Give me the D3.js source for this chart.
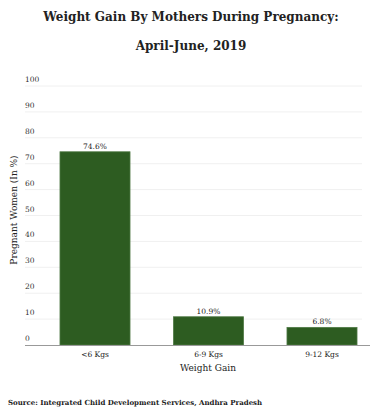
<!DOCTYPE html>
<html>
<head>
<meta charset="utf-8">
<script src="https://cdn.jsdelivr.net/npm/d3@7"></script>
<style>
  body { margin: 0; background: #fff; }
  text { font-family: "DejaVu Serif", "Liberation Serif", serif; fill: #222; }
</style>
</head>
<body>
<div id="chart"></div>
<script>
var categories = ["<6 Kgs", "6-9 Kgs", "9-12 Kgs"];
var values = [74.6, 10.9, 6.8];
var yTicks = [0, 10, 20, 30, 40, 50, 60, 70, 80, 90, 100];

var width = 371, height = 417;
var svg = d3.select("#chart").append("svg")
    .attr("width", width)
    .attr("height", height);

// title
svg.append("text")
    .attr("x", 191).attr("y", 21)
    .attr("text-anchor", "middle")
    .style("font-size", "12px").style("font-weight", "bold")
    .text("Weight Gain By Mothers During Pregnancy:");
svg.append("text")
    .attr("x", 191).attr("y", 50)
    .attr("text-anchor", "middle")
    .style("font-size", "12px").style("font-weight", "bold")
    .text("April-June, 2019");

var x = d3.scaleBand()
    .domain(categories)
    .range([38.25, 378.75])
    .paddingInner(0.383)
    .paddingOuter(0.1915);

var y = d3.scaleLinear()
    .domain([0, 100])
    .range([345, 86]);

// gridlines + tick labels
var grid = svg.append("g");
grid.selectAll("line")
    .data(yTicks.filter(function(d) { return d > 0; }))
    .enter().append("line")
    .attr("x1", 25).attr("x2", 362)
    .attr("y1", function(d) { return y(d); })
    .attr("y2", function(d) { return y(d); })
    .attr("stroke", "#f0f0f0").attr("stroke-width", 1);
grid.selectAll("text")
    .data(yTicks)
    .enter().append("text")
    .attr("x", 25)
    .attr("y", function(d) { return y(d) - 4; })
    .style("font-size", "7.5px").style("fill", "#333")
    .text(function(d) { return d; });

// bars
svg.append("g").selectAll("rect")
    .data(values)
    .enter().append("rect")
    .attr("x", function(d, i) { return x(categories[i]); })
    .attr("y", function(d) { return y(d); })
    .attr("width", x.bandwidth())
    .attr("height", function(d) { return y(0) - y(d); })
    .attr("fill", "#2d5c21")
    .attr("stroke", "#4f7a45").attr("stroke-width", 0.8);

// value labels
svg.append("g").selectAll("text")
    .data(values)
    .enter().append("text")
    .attr("x", function(d, i) { return x(categories[i]) + x.bandwidth() / 2; })
    .attr("y", function(d) { return y(d) - 3; })
    .attr("text-anchor", "middle")
    .style("font-size", "7.5px")
    .text(function(d) { return d.toFixed(1) + "%"; });

// x axis
svg.append("line")
    .attr("x1", 25).attr("x2", 370)
    .attr("y1", y(0) + 0.5).attr("y2", y(0) + 0.5)
    .attr("stroke", "#999").attr("stroke-width", 1);

svg.append("g").selectAll("text")
    .data(categories)
    .enter().append("text")
    .attr("x", function(d) { return x(d) + x.bandwidth() / 2; })
    .attr("y", 357)
    .attr("text-anchor", "middle")
    .style("font-size", "7.5px")
    .text(function(d) { return d; });

svg.append("text")
    .attr("x", 208).attr("y", 371)
    .attr("text-anchor", "middle")
    .style("font-size", "9px")
    .text("Weight Gain");

svg.append("text")
    .attr("transform", "translate(17,210)rotate(-90)")
    .attr("text-anchor", "middle")
    .style("font-size", "9px")
    .text("Pregnant Women (In %)");

svg.append("text")
    .attr("x", 8).attr("y", 405)
    .style("font-size", "7px").style("font-weight", "bold")
    .text("Source: Integrated Child Development Services, Andhra Pradesh");
</script>
</body>
</html>
